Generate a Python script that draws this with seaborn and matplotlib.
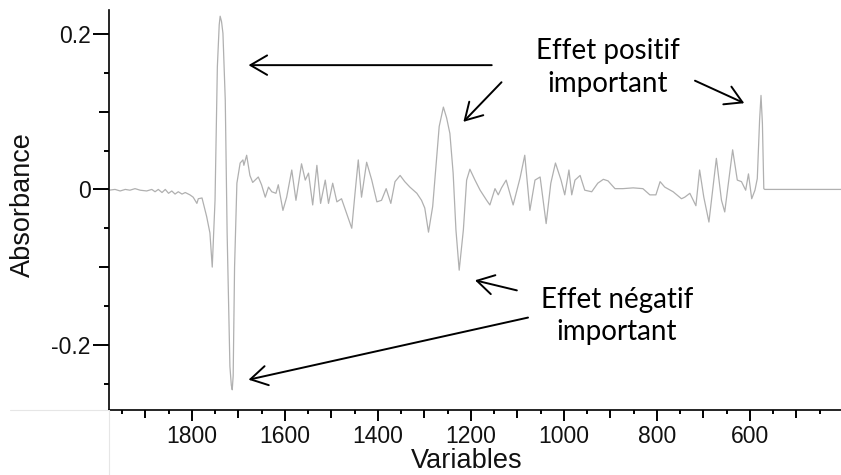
import numpy as np
import pandas as pd
import matplotlib
matplotlib.use("Agg")
import matplotlib.pyplot as plt
from matplotlib.lines import Line2D
import seaborn as sns

# ---- data ----
wavenumber = [1978, 1965, 1954, 1943, 1933, 1922, 1911, 1897, 1886, 1879, 1872, 1864, 1857, 1850,
              1843, 1836, 1829, 1821, 1814, 1804, 1797, 1789, 1786, 1778, 1768, 1761, 1756, 1750,
              1745, 1741, 1739, 1736, 1733, 1728, 1724, 1718, 1715, 1713, 1711, 1708, 1703, 1696,
              1690, 1688, 1682, 1675, 1669, 1657, 1650, 1642, 1635, 1628, 1619, 1614, 1604, 1596,
              1585, 1576, 1564, 1556, 1549, 1540, 1531, 1523, 1513, 1506, 1497, 1488, 1478, 1467,
              1456, 1449, 1442, 1435, 1424, 1413, 1402, 1392, 1382, 1372, 1363, 1352, 1342, 1331,
              1316, 1306, 1299, 1291, 1282, 1275, 1268, 1259, 1252, 1245, 1238, 1232, 1225, 1216,
              1209, 1202, 1191, 1180, 1166, 1159, 1148, 1141, 1134, 1124, 1109, 1094, 1084, 1073,
              1062, 1051, 1038, 1028, 1018, 1006, 998, 989, 983, 976, 965, 955, 940, 927, 915, 905,
              890, 873, 851, 830, 815, 802, 793, 783, 765, 747, 740, 729, 716, 708, 699, 688, 672,
              661, 654, 637, 627, 618, 609, 603, 596, 589, 584, 579, 576, 573, 570, 568, 400]
absorbance = [-0.001, 0.000, -0.002, 0.000, -0.001, 0.001, -0.001, -0.002, 0.000, -0.003, 0.000,
              -0.004, 0.000, -0.005, -0.002, -0.006, -0.003, -0.006, -0.004, -0.007, -0.010, -0.018,
              -0.012, -0.011, -0.035, -0.056, -0.100, -0.014, 0.158, 0.212, 0.223, 0.216, 0.201,
              0.115, -0.056, -0.228, -0.252, -0.258, -0.240, -0.100, 0.008, 0.034, 0.038, 0.031,
              0.044, 0.018, 0.009, 0.016, 0.006, -0.010, 0.003, -0.003, -0.005, 0.006, -0.027,
              -0.010, 0.025, -0.014, 0.033, 0.012, 0.021, -0.020, 0.031, -0.018, 0.012, -0.018,
              0.008, -0.016, -0.012, -0.031, -0.050, -0.005, 0.038, -0.010, 0.035, 0.012, -0.016,
              -0.014, 0.001, -0.018, 0.010, 0.018, 0.010, 0.003, -0.005, -0.014, -0.024, -0.055,
              -0.022, 0.029, 0.081, 0.106, 0.092, 0.072, 0.021, -0.052, -0.104, -0.052, 0.012,
              0.026, 0.012, -0.001, -0.014, -0.020, 0.001, -0.007, 0.002, 0.012, -0.020, 0.015,
              0.044, -0.027, 0.012, 0.016, -0.044, 0.008, 0.034, 0.012, -0.007, 0.025, -0.007,
              0.012, 0.018, -0.001, -0.003, 0.008, 0.013, 0.011, 0.001, 0.001, 0.002, 0.001,
              -0.007, -0.007, 0.010, 0.003, -0.003, -0.012, -0.010, -0.005, -0.021, 0.025, -0.010,
              -0.042, 0.040, -0.014, -0.029, 0.051, 0.012, 0.010, -0.001, 0.020, -0.012, -0.001,
              0.014, 0.090, 0.121, 0.085, 0.001, 0.000, 0.000]

x_major = [1900, 1800, 1700, 1600, 1500, 1400, 1300, 1200, 1100, 1000, 900, 800, 700, 600, 500]
x_labels = ["", "1800", "", "1600", "", "1400", "", "1200", "", "1000", "", "800", "", "600", ""]
x_minor = [1950, 1850, 1750, 1650, 1550, 1450, 1350, 1250, 1150, 1050, 950, 850, 750, 650, 550, 450]
y_major = [-0.2, -0.1, 0.0, 0.1, 0.2]
y_labels = ["-0.2", "", "0", "", "0.2"]
y_minor = [-0.25, -0.15, -0.05, 0.05, 0.15]

positive_label = "Effet positif\nimportant"
negative_label = "Effet négatif\nimportant"

df = pd.DataFrame({"Variables": wavenumber, "Absorbance": absorbance})

sns.set_theme(style="white")
plt.rcParams["font.family"] = ["Liberation Sans", "DejaVu Sans"]

W, H = 841, 475
fig = plt.figure(figsize=(W / 100, H / 100), dpi=100)
ax = fig.add_axes([109 / W, 1 - 410 / H, 1 - 109 / W, (410 - 10) / H])

sns.lineplot(data=df, x="Variables", y="Absorbance", ax=ax, color="#b0b0b0",
             linewidth=0.9, estimator=None, sort=False)

ax.set_xlim(1978, 404)
ax.set_ylim(-0.284, 0.231)

for s in ["top", "right"]:
    ax.spines[s].set_visible(False)
for s in ["left", "bottom"]:
    ax.spines[s].set_color("black")
    ax.spines[s].set_linewidth(1.2)

ax.set_xticks(x_major)
ax.set_xticklabels(x_labels)
ax.set_xticks(x_minor, minor=True)
ax.set_yticks(y_major)
ax.set_yticklabels(y_labels)
ax.set_yticks(y_minor, minor=True)

ax.tick_params(axis="both", which="both", direction="out", color="black", width=1.4,
               labelsize=16.5, labelcolor="#111111")
ax.tick_params(axis="x", which="major", length=7.6, pad=3)
ax.tick_params(axis="x", which="minor", length=2.9)
ax.tick_params(axis="y", which="major", length=11.3, pad=2)
ax.tick_params(axis="y", which="minor", length=3.4)
ax.tick_params(bottom=True, left=True, which="both")

for t, lab in zip(ax.xaxis.get_major_ticks(), x_labels):
    t.tick1line.set_markersize(7.6 if lab else 5.8)
for t, lab in zip(ax.yaxis.get_major_ticks(), y_labels):
    t.tick1line.set_markersize(11.3 if lab else 7.2)

ax.set_xlabel("Variables", fontsize=19.5, color="#111111")
ax.set_ylabel("Absorbance", fontsize=19.5, color="#111111")
ax.xaxis.set_label_coords(0.489, -0.096)
ax.yaxis.set_label_coords(-0.100, 0.513)

# faint extension lines of the frame
fig.add_artist(Line2D([10 / W, 109 / W], [1 - 410 / H, 1 - 410 / H],
                      transform=fig.transFigure, color="#e6e6e6", lw=0.8))
fig.add_artist(Line2D([109 / W, 109 / W], [0, 1 - 410 / H],
                      transform=fig.transFigure, color="#e6e6e6", lw=0.8))

# annotations
afont = dict(family=["Lato", "DejaVu Sans"], fontsize=20, color="black",
             ha="center", va="center", linespacing=1.3)
ax.text(905, 0.157, positive_label, **afont)
ax.text(886, -0.163, negative_label, **afont)

aprops = dict(arrowstyle="->,head_length=1.2,head_width=0.7", color="black", lw=1.4,
              mutation_scale=10, shrinkA=0, shrinkB=0)
arrows = [((1678, 0.160), (1155, 0.160)),
          ((1216, 0.087), (1134, 0.138)),
          ((612, 0.111), (718, 0.140)),
          ((1191, -0.117), (1101, -0.130)),
          ((1678, -0.245), (1077, -0.165))]
for tip, tail in arrows:
    ax.annotate("", xy=tip, xytext=tail, arrowprops=aprops)

fig.savefig("out.png", dpi=100)
